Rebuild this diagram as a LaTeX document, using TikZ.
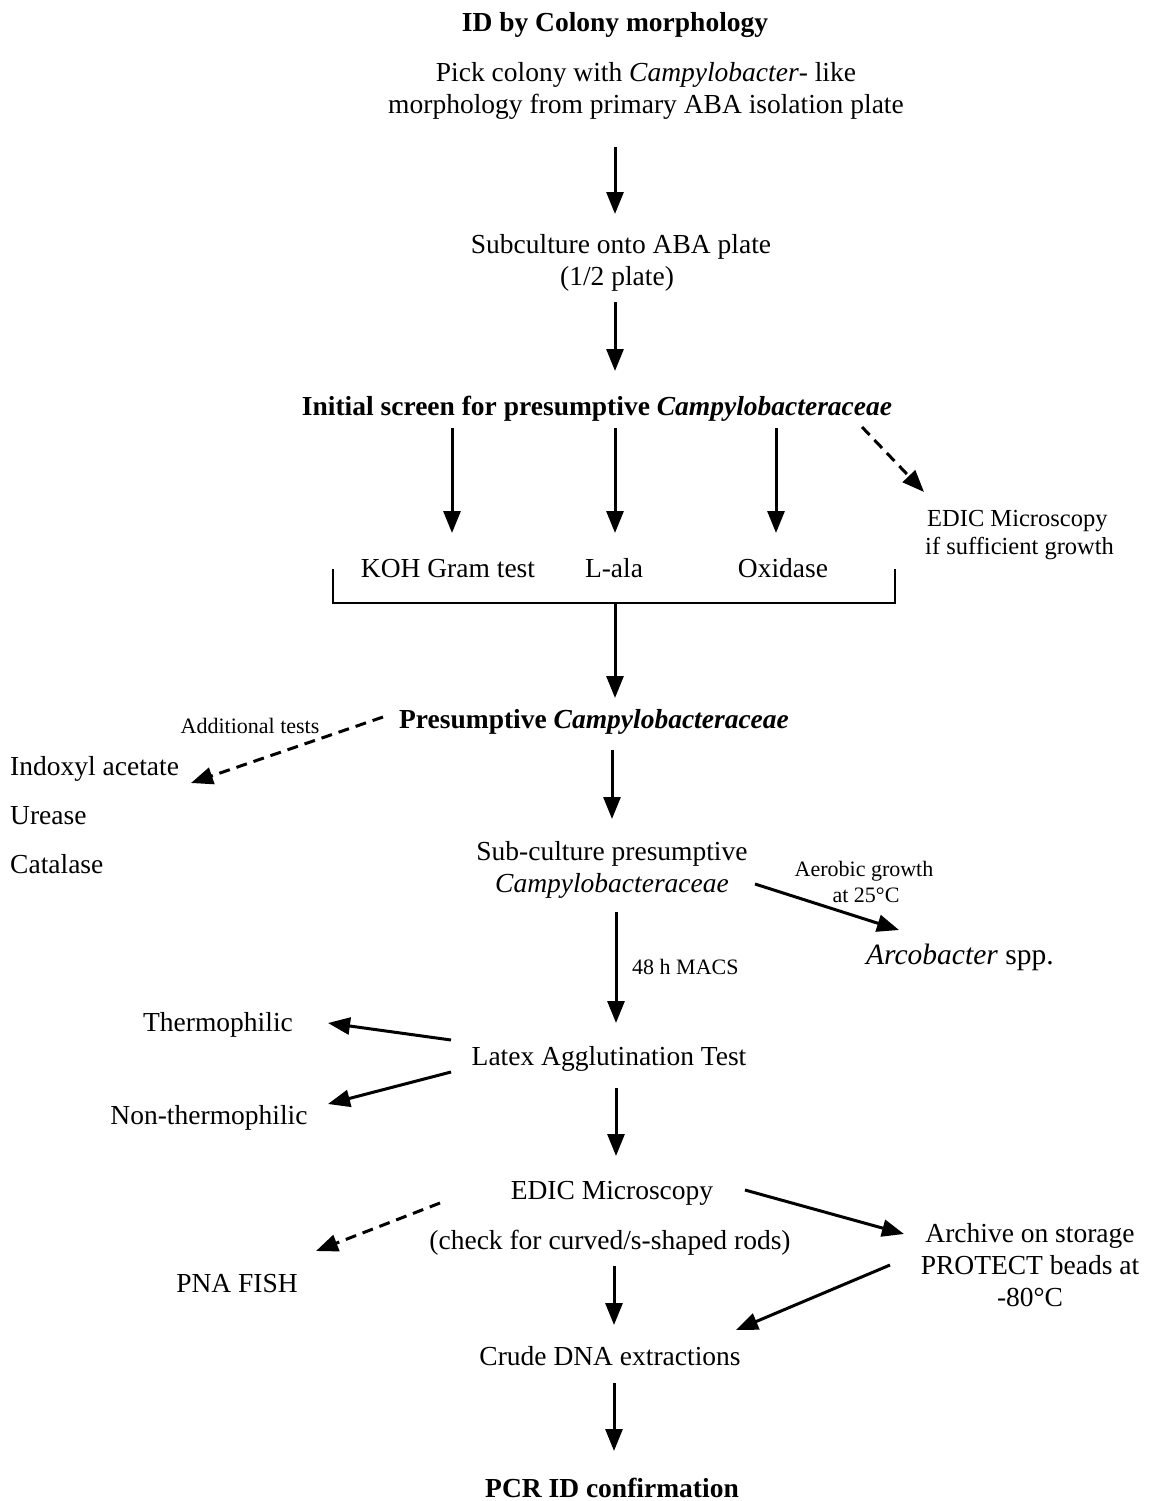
\documentclass[tikz,border=0pt]{standalone}
\usepackage{fontspec}
\setmainfont{Liberation Serif}
\usetikzlibrary{arrows.meta}
\begin{document}
\begin{tikzpicture}[x=1pt,y=-1pt,
  txt/.style={anchor=mid,inner sep=0pt,font=\fontsize{27.5}{32}\selectfont},
  ltxt/.style={txt,anchor=mid west},
  bld/.style={txt,font=\fontsize{27.5}{32}\selectfont\bfseries},
  small/.style={anchor=mid,inner sep=0pt,font=\fontsize{22}{26}\selectfont},
  arr/.style={line width=3pt,-{Triangle[length=22pt,width=17pt]}},
  darr/.style={arr,dash pattern=on 11pt off 7pt},
  brk/.style={line width=1.4pt}]
\useasboundingbox (0,0) rectangle (1149,1501);
% texts
\node[bld] (t1) at (615,29) {ID by Colony morphology};
\node[txt] (t2a) at (646,79) {Pick colony with \textit{Campylobacter}- like};
\node[txt] (t2b) at (646,111) {morphology from primary ABA isolation plate};
\node[txt] (t3a) at (621,251) {Subculture onto ABA plate};
\node[txt] (t3b) at (617,283) {(1/2 plate)};
\node[bld] (t4) at (597,413) {Initial screen for presumptive \textit{Campylobacteraceae}};
\node[ltxt,font=\fontsize{24.5}{28}\selectfont] (e1a) at (927,524) {EDIC Microscopy};
\node[ltxt,font=\fontsize{24.5}{28}\selectfont] (e1b) at (925,552) {if sufficient growth};
\node[txt] (koh) at (448,575) {KOH Gram test};
\node[txt] (lala) at (614,575) {L-ala};
\node[txt] (oxi) at (783,575) {Oxidase};
\node[bld] (t5) at (594,726) {Presumptive \textit{Campylobacteraceae}};
\node[small] (addl) at (250,731) {Additional tests};
\node[ltxt] (ind) at (10,773) {Indoxyl acetate};
\node[ltxt] (ure) at (10,822) {Urease};
\node[ltxt] (cat) at (10,871) {Catalase};
\node[txt] (t6a) at (612,858) {Sub-culture presumptive};
\node[txt] (t6b) at (612,890) {\textit{Campylobacteraceae}};
\node[small] (aer1) at (864,874) {Aerobic growth};
\node[small] (aer2) at (866,900) {at 25\textdegree C};
\node[ltxt,font=\fontsize{29.5}{34}\selectfont] (arco) at (866,962) {\textit{Arcobacter} spp.};
\node[small,anchor=mid west] (macs) at (632,972) {48 h MACS};
\node[txt] (t7) at (609,1063) {Latex Agglutination Test};
\node[txt] (therm) at (218,1029) {Thermophilic};
\node[txt] (nonth) at (209,1122) {Non-thermophilic};
\node[txt] (t8a) at (612,1197) {EDIC Microscopy};
\node[txt] (t8b) at (610,1247) {(check for curved/s-shaped rods)};
\node[txt] (pna) at (237,1290) {PNA FISH};
\node[txt] (arca) at (1030,1240) {Archive on storage};
\node[txt] (arcb) at (1030,1272) {PROTECT beads at};
\node[txt] (arcc) at (1030,1304) {-80\textdegree C};
\node[txt] (t9) at (610,1363) {Crude DNA extractions};
\node[bld] (t10) at (612,1495) {PCR ID confirmation};
% arrow end coordinates
\coordinate (a1s) at (615,147); \coordinate (a1e) at (615,214);
\coordinate (a2s) at (615,302); \coordinate (a2e) at (615,371);
\coordinate (k1) at (452,428); \coordinate (k2) at (452,533);
\coordinate (l1) at (615,428); \coordinate (l2) at (615,533);
\coordinate (o1) at (776,428); \coordinate (o2) at (776,533);
\coordinate (d1) at (862,427); \coordinate (d2) at (924,492);
\coordinate (bl) at (333,569); \coordinate (blb) at (333,603);
\coordinate (brb) at (895,603); \coordinate (br) at (895,569);
\coordinate (bm) at (615,603); \coordinate (bme) at (615,698);
\coordinate (p1) at (383,717); \coordinate (p2) at (191,783);
\coordinate (s1) at (612,750); \coordinate (s2) at (612,819);
\coordinate (r1) at (755,884); \coordinate (r2) at (899,930);
\coordinate (m1) at (616,912); \coordinate (m2) at (616,1023);
\coordinate (th1) at (451,1040); \coordinate (th2) at (328,1023);
\coordinate (nt1) at (451,1072); \coordinate (nt2) at (328,1104);
\coordinate (e1) at (616,1088); \coordinate (e2) at (616,1156);
\coordinate (f1) at (440,1203); \coordinate (f2) at (316,1251);
\coordinate (g1) at (745,1190); \coordinate (g2) at (904,1234);
\coordinate (h1) at (890,1265); \coordinate (h2) at (736,1330);
\coordinate (c1) at (614,1266); \coordinate (c2) at (614,1325);
\coordinate (q1) at (614,1383); \coordinate (q2) at (614,1451);
% connectors
\draw[arr] (a1s) -- (a1e);
\draw[arr] (a2s) -- (a2e);
\draw[arr] (k1) -- (k2);
\draw[arr] (l1) -- (l2);
\draw[arr] (o1) -- (o2);
\draw[darr] (d1) -- (d2);
\draw[brk] (bl) -- (blb) -- (brb) -- (br);
\draw[arr] (bm) -- (bme);
\draw[darr] (p1) -- (p2);
\draw[arr] (s1) -- (s2);
\draw[arr] (r1) -- (r2);
\draw[arr] (m1) -- (m2);
\draw[arr] (th1) -- (th2);
\draw[arr] (nt1) -- (nt2);
\draw[arr] (e1) -- (e2);
\draw[darr] (f1) -- (f2);
\draw[arr] (g1) -- (g2);
\draw[arr] (h1) -- (h2);
\draw[arr] (c1) -- (c2);
\draw[arr] (q1) -- (q2);
\end{tikzpicture}
\end{document}
